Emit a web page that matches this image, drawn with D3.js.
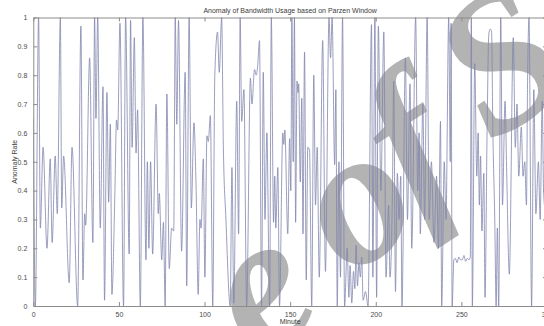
<!DOCTYPE html>
<html>
<head>
<meta charset="utf-8">
<script src="https://cdn.jsdelivr.net/npm/d3@7"></script>
<style>
  body { margin: 0; background: #fff; }
  svg { display: block; }
  .axis text { font-family: "Liberation Sans", Arial, sans-serif; font-size: 7px; fill: #4a4a4a; }
  .axis path, .axis line { stroke: #8c8c8c; }
</style>
</head>
<body>
<svg id="chart" width="544" height="326"></svg>
<script>
// Anomaly rate per minute (Parzen window estimate)
const minutes = [
  0, 1.2, 3.1, 4.1, 5.7, 8.0, 9.9, 11.0, 12.8, 14.0, 15.8, 16.6, 17.7, 21.0, 22.6, 25.9, 27.8, 29.0, 30.0, 30.6,
  32.9, 34.8, 35.8, 36.6, 37.6, 39.1, 40.7, 41.6, 43.0, 44.0, 45.0, 45.9, 47.6, 48.6, 49.3, 50.6, 52.7, 53.9, 56.0, 56.8,
  57.7, 59.0, 60.0, 60.9, 62.5, 64.0, 65.8, 66.6, 67.5, 68.5, 69.7, 71.7, 73.0, 73.6, 75.0, 76.0, 77.0, 78.0, 79.4, 80.8,
  82.0, 82.9, 83.8, 84.8, 86.6, 88.7, 89.6, 91.0, 92.3, 93.8, 95.0, 96.3, 97.3, 98.0, 99.3, 100.2, 101.4, 102.2, 103.4, 104.8,
  106.0, 107.6, 108.6, 110.0, 111.0, 112.5, 115.0, 116.0, 117.1, 118.8, 119.9, 120.8, 121.7, 123.0, 124.6, 126.8, 127.7, 129.2, 130.2, 131.0,
  132.1, 133.3, 134.3, 135.3, 136.4, 138.0, 139.0, 140.3, 141.0, 141.6, 142.8, 143.8, 145.7, 146.3, 146.9, 148.6, 149.7, 150.4, 151.0, 151.8,
  152.5, 153.2, 154.0, 154.6, 155.0, 155.9, 156.8, 157.5, 158.4, 159.4, 160.3, 161.3, 162.6, 163.8, 164.8, 165.8, 167.0, 169.0, 170.6, 172.7,
  173.6, 174.5, 176.0, 176.7, 177.5, 178.5, 179.4, 180.6, 181.8, 183.3, 184.3, 185.0, 186.0, 187.0, 187.8, 188.5, 189.3, 190.2, 191.0, 191.8,
  192.6, 194.0, 195.5, 197.5, 198.3, 199.5, 200.5, 201.5, 203.0, 204.7, 206.0, 207.5, 208.3, 209.7, 210.5, 211.5, 212.6, 213.6, 214.6, 215.3,
  217.3, 218.5, 220.0, 221.0, 223.3, 224.5, 225.3, 226.0, 227.5, 228.5, 230.0, 231.2, 232.5, 234.0, 235.5, 236.6, 237.8, 238.5, 240.0, 241.0,
  242.6, 243.5, 244.0, 244.6, 245.6, 246.5, 247.5, 248.5, 249.5, 250.5, 251.5, 252.5, 253.5, 254.5, 255.2, 255.8, 256.4, 257.8, 259.0, 259.8,
  260.5, 261.2, 262.0, 263.1, 263.8, 265.0, 266.0, 266.8, 267.6, 268.4, 269.5, 270.3, 271.0, 271.8, 273.0, 274.0, 275.5, 276.5, 278.0, 280.3,
  281.5, 282.5, 283.5, 285.0, 286.0, 287.0, 288.0, 288.6, 289.5, 291.0, 292.3, 293.5, 295.0, 296.0, 297.2, 298.0, 299.5
];
const rates = [
  0.65, 0.0, 1.0, 0.27, 0.55, 0.2, 0.51, 0.22, 0.52, 0.32, 1.0, 0.34, 0.52, 0.08, 0.55, 0.0, 0.97, 0.09, 0.32, 0.28,
  0.86, 0.22, 1.0, 0.65, 1.0, 0.27, 0.76, 0.02, 0.74, 0.36, 0.63, 0.04, 0.38, 0.645, 0.61, 0.98, 0.0, 1.0, 0.18, 0.99,
  0.55, 0.93, 0.53, 0.68, 0.0, 1.0, 0.16, 0.5, 0.2, 0.5, 0.18, 0.70, 0.32, 0.39, 0.16, 0.29, 0.0, 0.735, 0.13, 0.27,
  0.26, 1.0, 0.63, 0.99, 0.19, 0.81, 0.07, 1.0, 0.34, 0.635, 0.43, 0.04, 0.3, 0.27, 0.51, 0.1, 0.59, 0.57, 0.66, 0.0,
  0.8, 0.95, 0.81, 1.0, 0.55, 0.3, 0.0, 0.48, 0.01, 0.71, 0.25, 1.0, 0.64, 0.75, 0.0, 0.79, 0.70, 0.82, 0.80, 0.83,
  0.92, 0.0, 0.81, 0.3, 0.6, 0.0, 1.0, 0.29, 0.45, 0.27, 0.48, 0.0, 0.60, 0.56, 0.61, 0.25, 0.58, 0.40, 1.0, 0.5,
  1.0, 0.29, 0.78, 0.74, 0.77, 0.43, 0.72, 0.25, 0.88, 0.09, 0.55, 0.54, 0.0, 0.80, 0.35, 0.55, 0.1, 0.92, 0.12, 1.0,
  0.86, 1.0, 0.49, 0.75, 0.0, 0.5, 0.1, 1.0, 0.0, 0.2, 0.03, 0.14, 0.01, 0.12, 0.06, 0.21, 0.07, 0.15, 0.1, 0.17,
  0.02, 0.05, 0.0, 0.975, 0.1, 1.0, 0.03, 0.97, 0.4, 0.95, 0.1, 0.35, 0.1, 0.38, 0.78, 0.05, 0.46, 0.3, 0.45, 0.0,
  0.86, 0.3, 0.77, 0.2, 1.0, 0.4, 0.6, 0.25, 0.7, 0.3, 1.0, 0.3, 0.5, 0.22, 0.45, 0.2, 0.64, 0.0, 0.5, 0.3,
  1.0, 0.5, 0.98, 0.0, 0.16, 0.165, 0.15, 0.17, 0.16, 0.16, 0.175, 0.155, 0.165, 0.16, 0.17, 1.0, 0.0, 0.84, 0.45, 0.6,
  0.35, 0.52, 0.26, 0.46, 0.03, 0.6, 0.94, 0.96, 0.955, 0.6, 0.3, 0.0, 0.27, 0.0, 1.0, 0.35, 0.71, 0.45, 0.11, 0.93,
  0.55, 0.7, 0.45, 0.62, 0.45, 0.5, 0.35, 0.75, 1.0, 0.0, 0.75, 0.32, 0.5, 0.3, 0.71, 0.4, 0.3
];
const xTicks = [0, 50, 100, 150, 200, 250, 300];
const yTicks = [0, 0.1, 0.2, 0.3, 0.4, 0.5, 0.6, 0.7, 0.8, 0.9, 1];
const titleText = "Anomaly of Bandwidth Usage based on Parzen Window";
const xLabel = "Minute";
const yLabel = "Anomaly Rate";
const stampText = "e of S";

(function draw() {
  const svg = d3.select("#chart");
  const plotLeft = 33.3, plotRight = 547, plotTop = 17.5, plotBottom = 306;

  const x = d3.scaleLinear().domain([0, 300]).range([plotLeft, plotRight]);
  const y = d3.scaleLinear().domain([0, 1]).range([plotBottom, plotTop]);

  // stamp lettering behind the plot: baseline tilted, glyphs tilted a little less,
  // placed by the centre of its "o"
  const fs = 195, baseTilt = -43, glyphTurn = 10;
  const stamp = svg.append("text")
    .attr("font-family", "'Liberation Serif', 'Times New Roman', serif")
    .attr("font-style", "italic")
    .attr("font-weight", "bold")
    .attr("font-size", fs)
    .attr("letter-spacing", -5)
    .attr("rotate", glyphTurn)
    .attr("fill", "#b3b3b3")
    .text(stampText);
  const oPos = stamp.node().getStartPositionOfChar(stampText.indexOf("o"));
  const r = glyphTurn * Math.PI / 180;
  const gx = 0.29 * fs, gy = -0.23 * fs;
  const ocx = oPos.x + gx * Math.cos(r) - gy * Math.sin(r);
  const ocy = oPos.y + gx * Math.sin(r) + gy * Math.cos(r);
  stamp.attr("transform", `translate(370,209) rotate(${baseTilt}) translate(${-ocx},${-ocy})`);

  // data line
  svg.append("defs").append("clipPath").attr("id", "plotClip")
    .append("rect").attr("x", plotLeft).attr("y", plotTop - 1)
    .attr("width", plotRight - plotLeft).attr("height", plotBottom - plotTop + 2);

  const points = minutes.map((m, i) => [m, rates[i]]);
  const line = d3.line().x(d => x(d[0])).y(d => y(d[1])).curve(d3.curveMonotoneX);
  svg.append("path")
    .datum(points)
    .attr("clip-path", "url(#plotClip)")
    .attr("fill", "none")
    .attr("stroke", "#8285ad")
    .attr("stroke-width", 0.8)
    .attr("stroke-linejoin", "round")
    .attr("d", line);

  // axes: ticks point into the plot on all four sides
  const fmt = d => (d === 0 || d === 1) ? String(d) : d3.format(".1f")(d);
  svg.append("g").attr("class", "axis")
    .attr("transform", `translate(0,${plotBottom})`)
    .call(d3.axisBottom(x).tickValues(xTicks).tickSizeInner(-4).tickSizeOuter(0).tickPadding(6).tickFormat(d3.format("d")));
  svg.append("g").attr("class", "axis")
    .attr("transform", `translate(0,${plotTop})`)
    .call(d3.axisTop(x).tickValues(xTicks).tickSizeInner(-4).tickSizeOuter(0).tickFormat(""));
  svg.append("g").attr("class", "axis")
    .attr("transform", `translate(${plotLeft},0)`)
    .call(d3.axisLeft(y).tickValues(yTicks).tickSizeInner(-4).tickSizeOuter(0).tickPadding(6).tickFormat(fmt));
  svg.append("g").attr("class", "axis")
    .attr("transform", `translate(${plotRight},0)`)
    .call(d3.axisRight(y).tickValues(yTicks).tickSizeInner(-4).tickSizeOuter(0).tickFormat(""));

  const label = (txt) => svg.append("text")
    .attr("font-family", "'Liberation Sans', Arial, sans-serif")
    .attr("font-size", 7)
    .attr("fill", "#3c3c3c")
    .attr("text-anchor", "middle")
    .text(txt);

  label(titleText).attr("x", (plotLeft + plotRight) / 2).attr("y", 12.5);
  label(xLabel).attr("x", (plotLeft + plotRight) / 2).attr("y", 324);
  label(yLabel).attr("transform", `translate(16.5,${(plotTop + plotBottom) / 2}) rotate(-90)`);
})();
</script>
</body>
</html>
